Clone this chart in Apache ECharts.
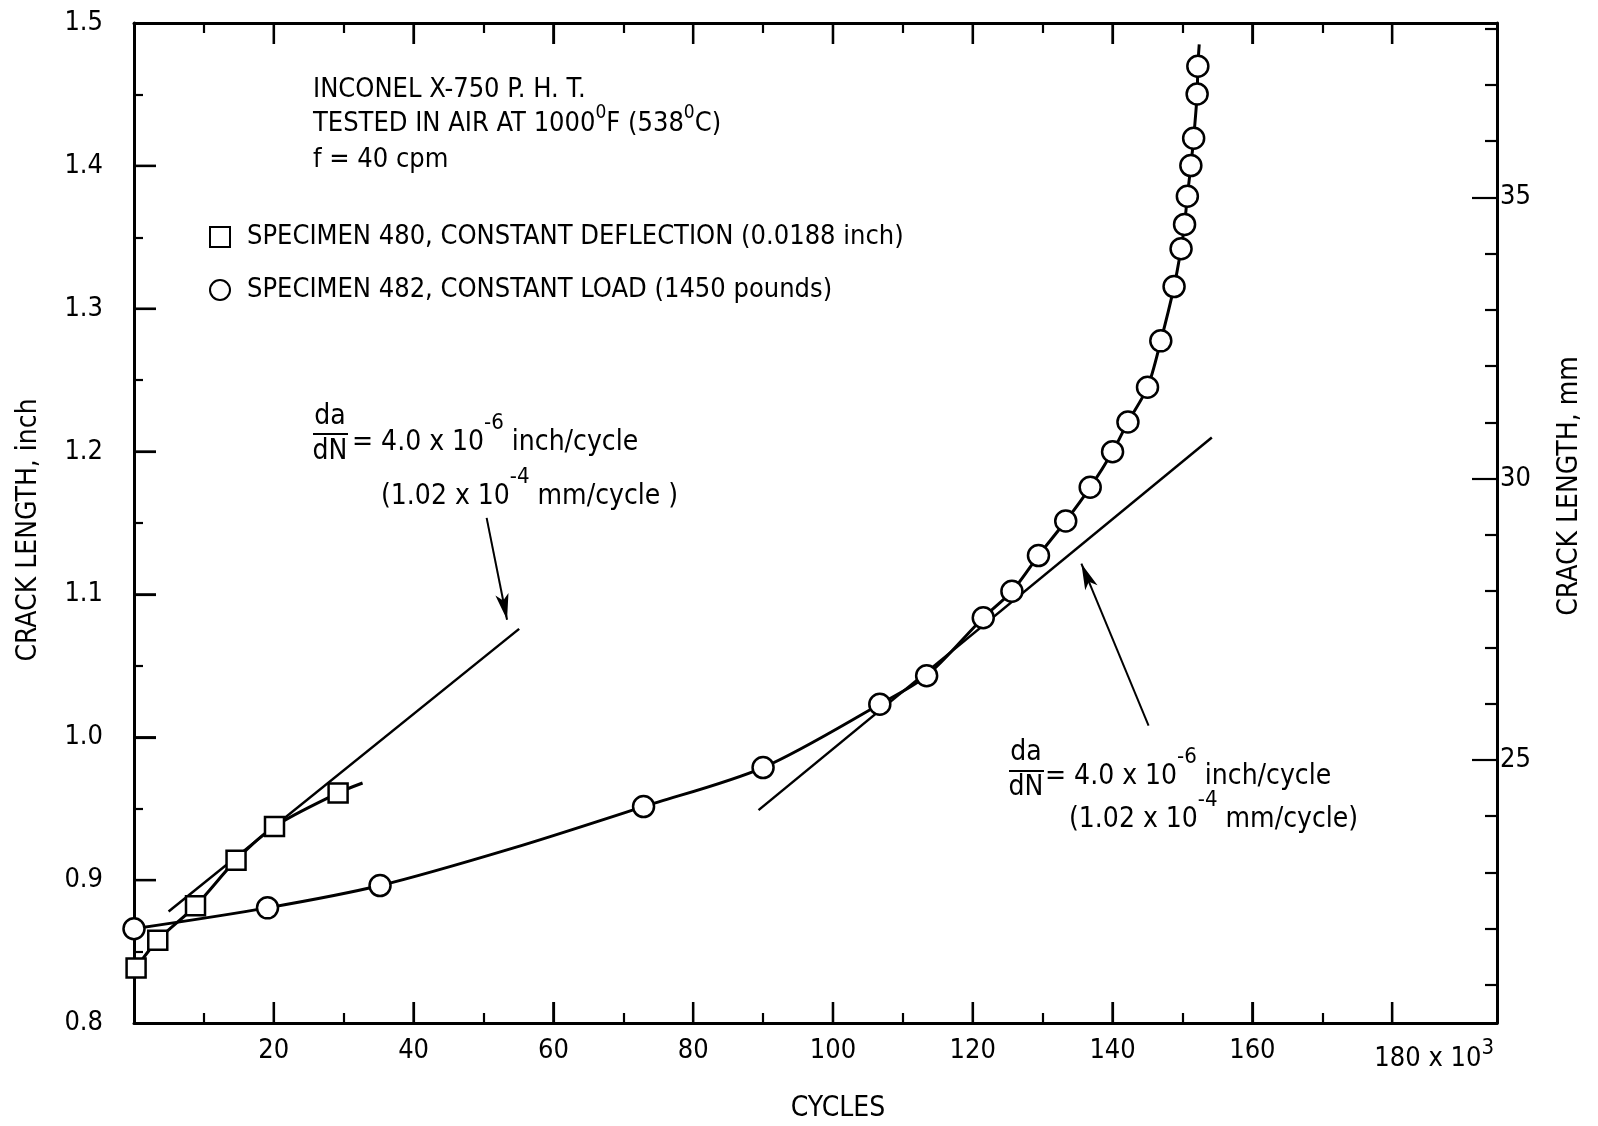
<!DOCTYPE html>
<html>
<head>
<meta charset="utf-8">
<script src="https://cdn.jsdelivr.net/npm/echarts@6/dist/echarts.min.js"></script>
<style>html,body{margin:0;padding:0;background:#fff}#c{width:1598px;height:1126px}</style>
</head>
<body>
<div id="c"></div>
<script>
// ---- data (cycles in thousands, crack length in inch) ----
const spec480Cycles = [0.3, 3.4, 8.8, 14.6, 20.1, 29.2];
const spec480Crack  = [0.8385, 0.858, 0.882, 0.914, 0.9375, 0.961];
const fit480Cycles  = [0.3, 3.4, 8.8, 14.6, 20.1, 29.2, 32.7];
const fit480Crack   = [0.8385, 0.858, 0.882, 0.914, 0.9375, 0.961, 0.968];

const spec482Cycles = [0, 19.1, 35.2, 72.9, 90.0, 106.7, 113.4, 121.5, 125.6, 129.4, 133.3, 136.8, 140.0, 142.2, 145.0, 146.9, 148.8, 149.8, 150.3, 150.7, 151.2, 151.6, 152.1, 152.2];
const spec482Crack  = [0.866, 0.8806, 0.8962, 0.9515, 0.9788, 1.0231, 1.0431, 1.0837, 1.1022, 1.1272, 1.1514, 1.175, 1.1999, 1.2207, 1.245, 1.2775, 1.3155, 1.342, 1.359, 1.3787, 1.4002, 1.4193, 1.4503, 1.4697];
// traced curve of specimen 482 (circle points plus a mid-span reading and the top end)
const fit482Cycles  = [0, 19.1, 35.2, 54.2, 72.9, 90.0, 106.7, 113.4, 121.5, 125.6, 129.4, 133.3, 136.8, 140.0, 142.2, 145.0, 146.9, 148.8, 149.8, 150.3, 150.7, 151.2, 151.6, 152.1, 152.2, 152.4];
const fit482Crack   = [0.866, 0.8806, 0.8962, 0.9224, 0.9515, 0.9788, 1.0231, 1.0431, 1.0837, 1.1022, 1.1272, 1.1514, 1.175, 1.1999, 1.2207, 1.245, 1.2775, 1.3155, 1.342, 1.359, 1.3787, 1.4002, 1.4193, 1.4503, 1.4697, 1.485];

const tangent1Cycles = [4.95, 55.1];
const tangent1Crack  = [0.878, 1.0759];
const tangent2Cycles = [89.35, 154.2];
const tangent2Crack  = [0.949, 1.2099];

const arrow1Cycles = [50.45, 53.37];
const arrow1Crack  = [1.1536, 1.0823];
const arrow2Cycles = [145.15, 135.54];
const arrow2Crack  = [1.0082, 1.1215];

const X_MIN = 0, X_MAX = 195;
const Y_MIN = 0.8, Y_MAX = 1.5, MM_PER_INCH = 25.4;
const xLabels     = [20, 40, 60, 80, 100, 120, 140, 160, 180];
const xMajorTicks = [20, 40, 60, 80, 100, 120, 140, 160, 180];
const xMinorTicks = [10, 30, 50, 70, 90, 110, 130, 150, 170];
const yLabels     = [0.8, 0.9, 1.0, 1.1, 1.2, 1.3, 1.4, 1.5];
const yMajorTicks = [0.9, 1.0, 1.1, 1.2, 1.3, 1.4];
const yMinorTicks = [0.85, 0.95, 1.05, 1.15, 1.25, 1.35, 1.45];
const mmLabels     = [25, 30, 35];
const mmMajorTicks = [25, 30, 35];
const mmMinorTicks = [21, 22, 23, 24, 26, 27, 28, 29, 31, 32, 33, 34, 36, 37, 38];

const name480 = 'SPECIMEN 480, CONSTANT DEFLECTION (0.0188 inch)';
const name482 = 'SPECIMEN 482, CONSTANT LOAD (1450 pounds)';

const zip = (a, b) => a.map((v, i) => [v, b[i]]);
const FONT = "'Liberation Sans Narrow', 'DejaVu Sans Condensed', 'Arial Narrow', sans-serif";
const BLACK = '#000';

const chart = echarts.init(document.getElementById('c'), null, {renderer: 'canvas'});

const tickStyle = {color: BLACK, width: 2.2};
const lineStyle3 = {color: BLACK, width: 3};
const MAJOR_X_LEN = 21, MAJOR_Y_LEN = 22;

function lineAxis(pos, min, max, labelOpt) {
  return {
    type: 'value', gridIndex: 0, position: pos, min: min, max: max,
    splitLine: {show: false},
    axisLine: {show: true, onZero: false, lineStyle: lineStyle3},
    axisTick: {show: false},
    axisLabel: labelOpt || {show: false}
  };
}
function tickAxis(pos, min, max, ticks, len) {
  return {
    type: 'value', gridIndex: 0, position: pos, min: min, max: max,
    splitLine: {show: false},
    axisLine: {show: false, onZero: false},
    axisTick: {show: true, inside: true, interval: 0, length: len, customValues: ticks, lineStyle: tickStyle},
    axisLabel: {show: false}
  };
}

const MM_MIN = Y_MIN * MM_PER_INCH, MM_MAX = Y_MAX * MM_PER_INCH;

function txt(x, y, text, opts) {
  opts = opts || {};
  return {
    type: 'text', x: x, y: y, rotation: opts.rotation || 0, z: 10,
    style: {
      text: text, fill: BLACK, fontSize: opts.fontSize || 28, fontFamily: FONT,
      align: opts.align || 'left', verticalAlign: 'middle', rich: opts.rich
    }
  };
}

const richSup = {
  m: {fontSize: 28, fontFamily: FONT, fill: BLACK, lineHeight: 62},
  s: {fontSize: 22, fontFamily: FONT, fill: BLACK, lineHeight: 16, verticalAlign: 'top'}
};
const richDeg = {
  m: {fontSize: 27, fontFamily: FONT, fill: BLACK, lineHeight: 40},
  s: {fontSize: 19, fontFamily: FONT, fill: BLACK, lineHeight: 16, verticalAlign: 'top'}
};

const tickSeg = (x1, y1, x2, y2) => ({
  type: 'line', shape: {x1: x1, y1: y1, x2: x2, y2: y2},
  style: {stroke: BLACK, lineWidth: 2.4}, z: 20
});

const option = {
  backgroundColor: '#fff',
  animation: false,
  grid: {left: 134, right: 101, top: 23, bottom: 103, containLabel: false, outerBoundsMode: 'none'},
  xAxis: [
    lineAxis('bottom', X_MIN, X_MAX, {
      show: true, interval: 0, customValues: xLabels, margin: 14, color: BLACK, fontSize: 27, fontFamily: FONT,
      formatter: v => v === 180 ? '{a|180}{b| x 10}{c|3}' : String(v),
      rich: {
        a: {fontSize: 27, fontFamily: FONT, color: BLACK, padding: [0, 0, 0, 84], lineHeight: 44},
        b: {fontSize: 27, fontFamily: FONT, color: BLACK, lineHeight: 44},
        c: {fontSize: 22, fontFamily: FONT, color: BLACK, lineHeight: 22, verticalAlign: 'top'}
      }
    }),
    tickAxis('bottom', X_MIN, X_MAX, xMajorTicks, MAJOR_X_LEN),
    tickAxis('bottom', X_MIN, X_MAX, xMinorTicks, 10),
    lineAxis('top', X_MIN, X_MAX, null),
    tickAxis('top', X_MIN, X_MAX, xMajorTicks, MAJOR_X_LEN),
    tickAxis('top', X_MIN, X_MAX, xMinorTicks, 10)
  ],
  yAxis: [
    lineAxis('left', Y_MIN, Y_MAX, {
      show: true, interval: 0, customValues: yLabels, margin: 31, color: BLACK, fontSize: 27, fontFamily: FONT,
      formatter: v => v.toFixed(1)
    }),
    tickAxis('left', Y_MIN, Y_MAX, yMajorTicks, MAJOR_Y_LEN),
    tickAxis('left', Y_MIN, Y_MAX, yMinorTicks, 9),
    lineAxis('right', MM_MIN, MM_MAX, {
      show: true, interval: 0, customValues: mmLabels, margin: 3, color: BLACK, fontSize: 27, fontFamily: FONT
    }),
    tickAxis('right', MM_MIN, MM_MAX, mmMajorTicks, 25),
    tickAxis('right', MM_MIN, MM_MAX, mmMinorTicks, 12)
  ],
  legend: {
    show: true, orient: 'vertical', left: 204, top: 218, itemGap: 25, itemWidth: 20, itemHeight: 20,
    selectedMode: false,
    data: [{name: name480, icon: 'rect'}, {name: name482, icon: 'circle'}],
    textStyle: {fontSize: 27, fontFamily: FONT, color: BLACK, lineHeight: 28, padding: [0, 0, 0, 12]}
  },
  series: [
    {
      type: 'line', name: 'fit480', data: zip(fit480Cycles, fit480Crack), smooth: 0.3,
      symbol: 'none', lineStyle: {color: BLACK, width: 3}, z: 3, silent: true
    },
    {
      type: 'line', name: 'fit482', data: zip(fit482Cycles, fit482Crack), smooth: 0.3,
      symbol: 'none', lineStyle: {color: BLACK, width: 3}, z: 3, silent: true
    },
    {
      type: 'line', name: 'tangent1', data: zip(tangent1Cycles, tangent1Crack),
      symbol: 'none', lineStyle: {color: BLACK, width: 2.5}, z: 3, silent: true,
      markLine: {
        silent: true, symbol: ['none', 'arrow'], symbolSize: [10, 26],
        label: {show: false},
        lineStyle: {color: BLACK, width: 2, type: 'solid'},
        data: [
          [{coord: [arrow1Cycles[0], arrow1Crack[0]]}, {coord: [arrow1Cycles[1], arrow1Crack[1]]}],
          [{coord: [arrow2Cycles[0], arrow2Crack[0]]}, {coord: [arrow2Cycles[1], arrow2Crack[1]]}]
        ]
      }
    },
    {
      type: 'line', name: 'tangent2', data: zip(tangent2Cycles, tangent2Crack),
      symbol: 'none', lineStyle: {color: BLACK, width: 2.5}, z: 3, silent: true
    },
    {
      type: 'scatter', name: name480, data: zip(spec480Cycles, spec480Crack),
      symbol: 'rect', symbolSize: 19,
      itemStyle: {color: '#fff', borderColor: BLACK, borderWidth: 2.5, opacity: 1}, z: 5
    },
    {
      type: 'scatter', name: name482, data: zip(spec482Cycles, spec482Crack),
      symbol: 'circle', symbolSize: 21,
      itemStyle: {color: '#fff', borderColor: BLACK, borderWidth: 2.5, opacity: 1}, z: 5
    }
  ],
  graphic: [
    txt(313, 90, 'INCONEL X-750 P. H. T.', {fontSize: 27}),
    txt(313, 124, '{m|TESTED IN AIR AT 1000}{s|0}{m|F (538}{s|0}{m|C)}', {rich: richDeg}),
    txt(313, 160, 'f = 40 cpm', {fontSize: 27}),
    // left da/dN annotation
    txt(330, 417, 'da', {align: 'center'}),
    {type: 'line', shape: {x1: 313, y1: 434, x2: 348, y2: 434}, style: {stroke: BLACK, lineWidth: 2}},
    txt(330, 452, 'dN', {align: 'center'}),
    txt(352, 443, '{m|= 4.0 x 10}{s|-6}{m| inch/cycle}', {rich: richSup}),
    txt(381, 497, '{m|(1.02 x 10}{s|-4}{m| mm/cycle )}', {rich: richSup}),
    // right da/dN annotation
    txt(1026, 753, 'da', {align: 'center'}),
    {type: 'line', shape: {x1: 1009, y1: 771, x2: 1044, y2: 771}, style: {stroke: BLACK, lineWidth: 2}},
    txt(1026, 788, 'dN', {align: 'center'}),
    txt(1045, 777, '{m|= 4.0 x 10}{s|-6}{m| inch/cycle}', {rich: richSup}),
    txt(1069, 820, '{m|(1.02 x 10}{s|-4}{m| mm/cycle)}', {rich: richSup}),
    // axis titles
    txt(838, 1109, 'CYCLES', {align: 'center'}),
    txt(29, 530, 'CRACK LENGTH, inch', {align: 'center', rotation: Math.PI / 2}),
    txt(1570, 486, 'CRACK LENGTH, mm', {align: 'center', rotation: Math.PI / 2})
  ]
};
chart.setOption(option);

// major tick marks placed through the chart's own scales (convertToPixel)
const finder = {xAxisIndex: 0, yAxisIndex: 0};
const tickEls = [];
xMajorTicks.forEach(v => {
  const b = chart.convertToPixel(finder, [v, Y_MIN]);
  const t = chart.convertToPixel(finder, [v, Y_MAX]);
  tickEls.push(tickSeg(b[0], b[1], b[0], b[1] - MAJOR_X_LEN));
  tickEls.push(tickSeg(t[0], t[1], t[0], t[1] + MAJOR_X_LEN));
});
yMajorTicks.forEach(v => {
  const p = chart.convertToPixel(finder, [X_MIN, v]);
  tickEls.push(tickSeg(p[0], p[1], p[0] + MAJOR_Y_LEN, p[1]));
});
chart.setOption({graphic: option.graphic.concat(tickEls)});
</script>
</body>
</html>
